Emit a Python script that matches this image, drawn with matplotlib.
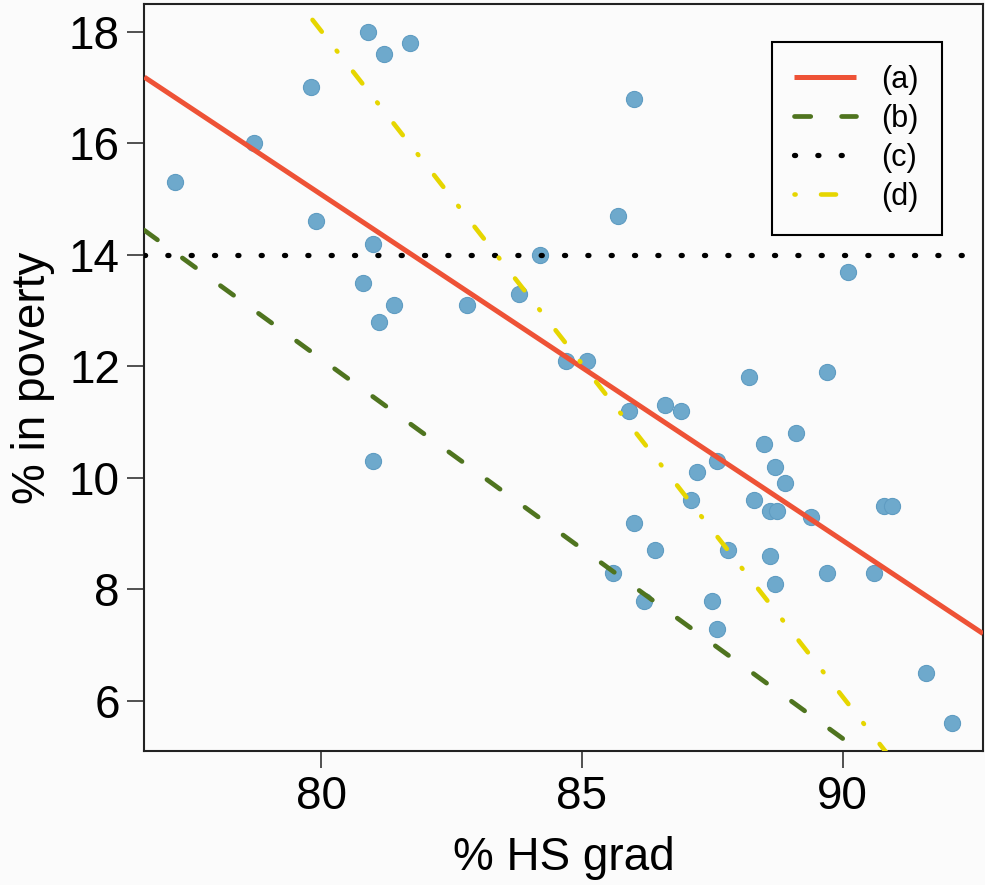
#!/usr/bin/env python3
"""
Pobreza vs. conclusão do ensino médio por estado, com quatro retas candidatas
"""

import matplotlib
matplotlib.use('Agg')
import matplotlib.pyplot as plt
import numpy as np

# Dados (% HS grad, % in poverty)
hs_grad = [77.2, 78.7, 79.8, 79.9, 80.9, 81.2, 81.7, 81.0, 80.8, 81.4,
           81.1, 81.0, 82.8, 83.8, 84.2, 85.7, 86.0, 84.7, 85.1, 85.9,
           86.6, 86.9, 86.0, 86.4, 85.6, 86.2, 87.2, 87.1, 87.6, 87.8,
           87.5, 87.6, 88.2, 88.5, 88.3, 88.7, 88.6, 88.75, 88.9, 88.6,
           88.7, 89.1, 89.7, 89.4, 89.7, 90.1, 90.6, 90.8, 90.95, 91.6,
           92.1]
poverty = [15.3, 16.0, 17.0, 14.6, 18.0, 17.6, 17.8, 14.2, 13.5, 13.1,
           12.8, 10.3, 13.1, 13.3, 14.0, 14.7, 16.8, 12.1, 12.1, 11.2,
           11.3, 11.2, 9.2, 8.7, 8.3, 7.8, 10.1, 9.6, 10.3, 8.7,
           7.8, 7.3, 11.8, 10.6, 9.6, 10.2, 9.4, 9.4, 9.9, 8.6,
           8.1, 10.8, 11.9, 9.3, 8.3, 13.7, 8.3, 9.5, 9.5, 6.5,
           5.6]

# Retas candidatas: y = intercepto + inclinação * x
line_labels = ['(a)', '(b)', '(c)', '(d)']
line_intercepts = [64.68, 66.53, 14.0, 113.45]
line_slopes = [-0.62, -0.68, 0.0, -1.193]

x_ticks = [80, 85, 90]
y_ticks = [6, 8, 10, 12, 14, 16, 18]

# Estilos
BG = '#fbfbfb'
POINT_COLOR = '#6ea9cc'
LINE_COLORS = ['#ee5236', '#4f741f', '#000000', '#e6d600']
LINE_WIDTHS = [3.6, 3.4, 3.8, 3.3]
LINE_DASHES = [None, (11.7, 22.2), (0.8, 16.0), (0.8, 18.3, 10.8, 17.4)]


def padded_range(values, frac=0.04):
    """Faixa do eixo com 4% de folga, como no R"""
    lo, hi = min(values), max(values)
    pad = (hi - lo) * frac
    return lo - pad, hi + pad


def create_plot(output_file):
    plt.rcParams['font.family'] = ['Liberation Sans', 'DejaVu Sans']
    plt.rcParams['lines.scale_dashes'] = False

    fig = plt.figure(figsize=(9.85, 8.85), dpi=100, facecolor=BG)
    ax = fig.add_axes([0.1465, 0.1514, 0.8515, 0.8441], facecolor=BG)

    xlim = padded_range(hs_grad)
    ylim = padded_range(poverty)

    ax.scatter(hs_grad, poverty, s=135, color=POINT_COLOR,
               edgecolor='#5f9cc2', linewidth=0.8, zorder=2)

    xs = np.array(xlim)
    for i, label in enumerate(line_labels):
        ys = line_intercepts[i] + line_slopes[i] * xs
        kwargs = dict(color=LINE_COLORS[i], linewidth=LINE_WIDTHS[i],
                      label=label, zorder=3, solid_capstyle='butt',
                      dash_capstyle='round')
        if LINE_DASHES[i] is not None:
            kwargs['dashes'] = LINE_DASHES[i]
        ax.plot(xs, ys, **kwargs)

    ax.set_xlim(xlim)
    ax.set_ylim(ylim)
    ax.set_xticks(x_ticks)
    ax.set_yticks(y_ticks)
    ax.tick_params(axis='both', labelsize=33, length=12.5, width=1.1,
                   direction='out', color='#222222')
    ax.tick_params(axis='x', pad=5)
    ax.tick_params(axis='y', pad=5)

    for spine in ax.spines.values():
        spine.set_linewidth(1.5)
        spine.set_color('#222222')

    ax.set_xlabel('% HS grad', fontsize=33, labelpad=12)
    ax.set_ylabel('% in poverty', fontsize=33, labelpad=10)

    leg = ax.legend(loc='upper right', bbox_to_anchor=(0.951, 0.9495),
                    borderaxespad=0, fontsize=22, handlelength=2.0,
                    handletextpad=0.85, borderpad=0.75, labelspacing=0.3,
                    fancybox=False, edgecolor='black', framealpha=1,
                    facecolor=BG)
    leg.get_frame().set_linewidth(1.5)

    fig.savefig(output_file, dpi=100, facecolor=BG)
    print(f"Gráfico salvo em: {output_file}")


def main():
    create_plot('out.png')


if __name__ == "__main__":
    main()
